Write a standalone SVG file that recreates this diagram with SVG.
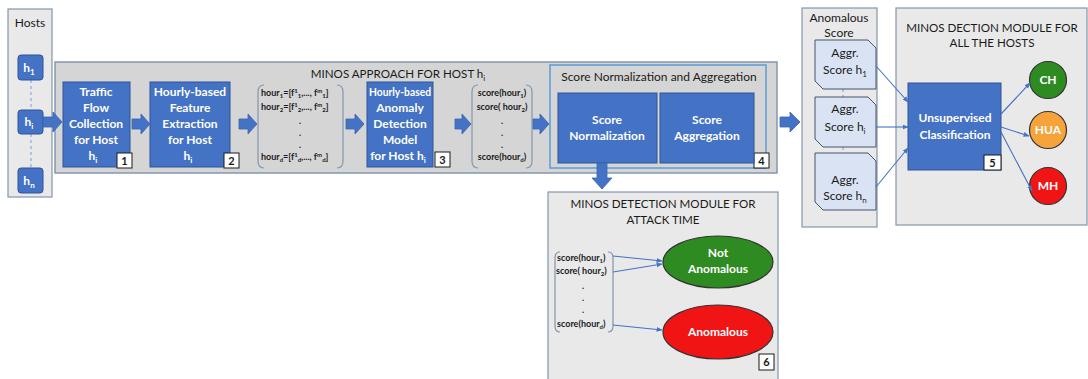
<svg xmlns="http://www.w3.org/2000/svg" width="1088" height="379" viewBox="0 0 1088 379">
  <style>
    text { font-family: Lato, "Open Sans", "Liberation Sans", sans-serif; }
    .panel { fill: #e9e9e9; stroke: #8497b0; stroke-width: 1.2; }
    .approach { fill: #d5d5d5; stroke: #8497b0; stroke-width: 1.5; }
    .inner { fill: #d5d5d5; stroke: #5b9bd5; stroke-width: 1.5; }
    .blue { fill: #4472c4; stroke: #2f5597; stroke-width: 1; }
    .wt { fill: #ffffff; font-weight: 700; font-size: 12px; text-anchor: middle; }
    .bt { fill: #1a1a1a; font-size: 12px; text-anchor: middle; }
    .title { fill: #1a1a1a; font-size: 11.6px; text-anchor: middle; }
    .small { fill: #1a1a1a; font-size: 9px; font-weight: 700; }
    .tag { fill: #ffffff; stroke: #1a1a1a; stroke-width: 1; }
    .tagt { fill: #1a1a1a; font-size: 11px; font-weight: 700; text-anchor: middle; }
    .bracket { fill: none; stroke: #8497b0; stroke-width: 1.2; }
    .aggr { fill: #dae3f3; stroke: #44546a; stroke-width: 1; }
    .dash { stroke: #8ea9db; stroke-width: 1.2; stroke-dasharray: 3 3; fill: none; }
    .block { fill: #4472c4; stroke: #3a64b0; stroke-width: 0.8; }
    .thin { stroke: #4472c4; stroke-width: 1.1; fill: none; marker-end: url(#tip); }
    .ball { stroke: #333333; stroke-width: 1.2; }
  </style>
  <defs>
    <marker id="tip" viewBox="0 0 10 10" refX="9" refY="5" markerWidth="6" markerHeight="6" orient="auto" markerUnits="userSpaceOnUse">
      <path d="M0,1 L10,5 L0,9 Z" fill="#4472c4"/>
    </marker>
  </defs>

  <!-- Hosts column -->
  <g id="hosts">
    <rect class="panel" x="8" y="9" width="44" height="188"/>
    <text class="bt" x="30" y="27" font-size="11">Hosts</text>
    <line class="dash" x1="31" y1="80" x2="31" y2="110"/>
    <line class="dash" x1="31" y1="134" x2="31" y2="168"/>
  </g>
  <g id="host-h1">
    <rect class="blue" x="18" y="55" width="25" height="25" rx="3"/>
    <text class="wt" x="29" y="72">h<tspan font-size="8" dy="3">1</tspan></text>
  </g>
  <g id="host-hi">
    <rect class="blue" x="18" y="110" width="25" height="24" rx="3"/>
    <text class="wt" x="29" y="126">h<tspan font-size="8" dy="3">i</tspan></text>
  </g>
  <g id="host-hn">
    <rect class="blue" x="18" y="168" width="25" height="25" rx="3"/>
    <text class="wt" x="29" y="185">h<tspan font-size="8" dy="3">n</tspan></text>
  </g>

  <!-- Per-host pipeline -->
  <g id="approach">
    <rect class="approach" x="55" y="62" width="722" height="111"/>
    <text class="title" x="398" y="78">MINOS APPROACH FOR HOST h<tspan font-size="8" dy="3">i</tspan></text>
  </g>
  <g id="traffic-collection">
    <rect class="blue" x="63" y="82" width="67" height="85"/>
    <text class="wt" x="96" y="96">Traffic</text>
    <text class="wt" x="96" y="112">Flow</text>
    <text class="wt" x="96" y="128">Collection</text>
    <text class="wt" x="96" y="144">for Host</text>
    <text class="wt" x="93" y="160">h<tspan font-size="8" dy="3">i</tspan></text>
    <rect class="tag" x="117" y="153" width="15" height="15"/>
    <text class="tagt" x="124.5" y="165">1</text>
  </g>
  <g id="feature-extraction">
    <rect class="blue" x="150" y="82" width="80" height="85"/>
    <text class="wt" x="190" y="96">Hourly-based</text>
    <text class="wt" x="190" y="112">Feature</text>
    <text class="wt" x="190" y="128">Extraction</text>
    <text class="wt" x="190" y="144">for Host</text>
    <text class="wt" x="188" y="160">h<tspan font-size="8" dy="3">i</tspan></text>
    <rect class="tag" x="224" y="153" width="15" height="15"/>
    <text class="tagt" x="231.5" y="165">2</text>
  </g>
  <g id="hour-features">
    <path class="bracket" d="M264,85 Q258,85 258,92 V161 Q258,168 264,168"/>
    <path class="bracket" d="M337,85 Q343,85 343,92 V161 Q343,168 337,168"/>
    <text class="small" x="261" y="96">hour<tspan font-size="6" dy="2">1</tspan><tspan dy="-2">=[f</tspan><tspan font-size="6" dy="-3">1</tspan><tspan font-size="6" dy="5">1</tspan><tspan dy="-2">,..., f</tspan><tspan font-size="6" dy="-3">m</tspan><tspan font-size="6" dy="5">1</tspan><tspan dy="-2">]</tspan></text>
    <text class="small" x="261" y="110">hour<tspan font-size="6" dy="2">2</tspan><tspan dy="-2">=[f</tspan><tspan font-size="6" dy="-3">1</tspan><tspan font-size="6" dy="5">2</tspan><tspan dy="-2">,..., f</tspan><tspan font-size="6" dy="-3">m</tspan><tspan font-size="6" dy="5">2</tspan><tspan dy="-2">]</tspan></text>
    <text class="small" x="300" y="124" text-anchor="middle">.</text>
    <text class="small" x="300" y="136" text-anchor="middle">.</text>
    <text class="small" x="300" y="148" text-anchor="middle">.</text>
    <text class="small" x="261" y="160">hour<tspan font-size="6" dy="2">d</tspan><tspan dy="-2">=[f</tspan><tspan font-size="6" dy="-3">1</tspan><tspan font-size="6" dy="5">d</tspan><tspan dy="-2">,..., f</tspan><tspan font-size="6" dy="-3">m</tspan><tspan font-size="6" dy="5">d</tspan><tspan dy="-2">]</tspan></text>
  </g>
  <g id="anomaly-model">
    <rect class="blue" x="367" y="82" width="66" height="85"/>
    <text class="wt" x="400" y="96" textLength="62" lengthAdjust="spacingAndGlyphs">Hourly-based</text>
    <text class="wt" x="400" y="112">Anomaly</text>
    <text class="wt" x="400" y="128">Detection</text>
    <text class="wt" x="400" y="144">Model</text>
    <text class="wt" x="398" y="160">for Host  h<tspan font-size="8" dy="3">i</tspan></text>
    <rect class="tag" x="435" y="152" width="15" height="15"/>
    <text class="tagt" x="442.5" y="164">3</text>
  </g>
  <g id="hour-scores">
    <path class="bracket" d="M478,85 Q472,85 472,92 V161 Q472,168 478,168"/>
    <path class="bracket" d="M526,85 Q532,85 532,92 V161 Q532,168 526,168"/>
    <text class="small" x="502" y="96" text-anchor="middle">score(hour<tspan font-size="6" dy="2">1</tspan><tspan dy="-2">)</tspan></text>
    <text class="small" x="502" y="110" text-anchor="middle">score( hour<tspan font-size="6" dy="2">2</tspan><tspan dy="-2">)</tspan></text>
    <text class="small" x="502" y="124" text-anchor="middle">.</text>
    <text class="small" x="502" y="136" text-anchor="middle">.</text>
    <text class="small" x="502" y="148" text-anchor="middle">.</text>
    <text class="small" x="502" y="160" text-anchor="middle">score(hour<tspan font-size="6" dy="2">d</tspan><tspan dy="-2">)</tspan></text>
  </g>
  <g id="score-stage">
    <rect class="inner" x="550" y="65" width="216" height="103"/>
    <text class="bt" x="659" y="81" font-size="13">Score Normalization and Aggregation</text>
    <rect class="tag" x="754" y="153" width="15" height="15"/>
    <text class="tagt" x="761.5" y="165">4</text>
  </g>
  <g id="score-normalization">
    <rect class="blue" x="558" y="93" width="99" height="70"/>
    <text class="wt" x="607" y="124">Score</text>
    <text class="wt" x="607" y="140">Normalization</text>
  </g>
  <g id="score-aggregation">
    <rect class="blue" x="660" y="93" width="94" height="70"/>
    <text class="wt" x="707" y="124">Score</text>
    <text class="wt" x="707" y="140">Aggregation</text>
  </g>

  <!-- Attack-time detection -->
  <g id="attack-time-module">
    <rect class="panel" x="548" y="192" width="230" height="192"/>
    <text class="title" x="663" y="208">MINOS DETECTION MODULE FOR</text>
    <text class="title" x="663" y="224">ATTACK TIME</text>
    <path class="bracket" d="M560,252 Q555,252 555,258 V326 Q555,332 560,332"/>
    <path class="bracket" d="M608,252 Q613,252 613,258 V326 Q613,332 608,332"/>
    <text class="small" x="557" y="261">score(hour<tspan font-size="6" dy="2">1</tspan><tspan dy="-2">)</tspan></text>
    <text class="small" x="556" y="274">score( hour<tspan font-size="6" dy="2">2</tspan><tspan dy="-2">)</tspan></text>
    <text class="small" x="583" y="289" text-anchor="middle">.</text>
    <text class="small" x="583" y="301" text-anchor="middle">.</text>
    <text class="small" x="583" y="313" text-anchor="middle">.</text>
    <text class="small" x="557" y="327">score(hour<tspan font-size="6" dy="2">d</tspan><tspan dy="-2">)</tspan></text>
    <rect class="tag" x="759" y="354" width="15" height="16"/>
    <text class="tagt" x="766.5" y="366">6</text>
  </g>
  <g id="not-anomalous">
    <ellipse class="ball" cx="718" cy="262" rx="55" ry="26" fill="#2e8b22"/>
    <text class="wt" x="718" y="257">Not</text>
    <text class="wt" x="718" y="273">Anomalous</text>
  </g>
  <g id="anomalous">
    <ellipse class="ball" cx="718" cy="332" rx="55" ry="27" fill="#f01414"/>
    <text class="wt" x="718" y="336">Anomalous</text>
  </g>

  <!-- Aggregated scores of all hosts -->
  <g id="anomalous-score">
    <rect class="panel" x="802" y="8" width="75" height="219"/>
    <text class="bt" x="839" y="22" font-size="11">Anomalous</text>
    <text class="bt" x="839" y="37" font-size="11">Score</text>
    <line class="dash" x1="843" y1="89" x2="843" y2="97"/>
    <line class="dash" x1="843" y1="147" x2="843" y2="153"/>
  </g>
  <g id="aggr-h1">
    <path class="aggr" d="M815,40 H868 L876,48 V89 H823 L815,81 Z"/>
    <text class="bt" x="845" y="57" font-size="11">Aggr.</text>
    <text class="bt" x="845" y="74" font-size="11">Score h<tspan font-size="8" dy="3">1</tspan></text>
  </g>
  <g id="aggr-hi">
    <path class="aggr" d="M815,97 H868 L876,105 V147 H823 L815,139 Z"/>
    <text class="bt" x="845" y="113" font-size="11">Aggr.</text>
    <text class="bt" x="845" y="131" font-size="11">Score h<tspan font-size="8" dy="3">i</tspan></text>
  </g>
  <g id="aggr-hn">
    <path class="aggr" d="M815,153 H868 L876,161 V210 H823 L815,202 Z"/>
    <text class="bt" x="845" y="184" font-size="11">Aggr.</text>
    <text class="bt" x="845" y="200" font-size="11">Score h<tspan font-size="8" dy="3">n</tspan></text>
  </g>

  <!-- Host classification -->
  <g id="all-hosts-module">
    <rect class="panel" x="896" y="8" width="191" height="217"/>
    <text class="title" x="992" y="32">MINOS DECTION MODULE FOR</text>
    <text class="title" x="992" y="47">ALL THE HOSTS</text>
  </g>
  <g id="unsupervised">
    <rect class="blue" x="908" y="83" width="93" height="87"/>
    <text class="wt" x="955" y="122">Unsupervised</text>
    <text class="wt" x="955" y="139">Classification</text>
    <rect class="tag" x="984" y="155" width="17" height="15"/>
    <text class="tagt" x="992.5" y="167">5</text>
  </g>
  <g id="class-ch">
    <circle class="ball" cx="1048" cy="80" r="18.5" fill="#2e8b22"/>
    <text class="wt" x="1048" y="84" font-size="11">CH</text>
  </g>
  <g id="class-hua">
    <circle class="ball" cx="1048" cy="130" r="18.5" fill="#f5a33a"/>
    <text class="wt" x="1048" y="134" font-size="11">HUA</text>
  </g>
  <g id="class-mh">
    <circle class="ball" cx="1048" cy="186" r="18.5" fill="#f01414"/>
    <text class="wt" x="1048" y="190" font-size="11">MH</text>
  </g>

  <!-- Connectors -->
  <g id="connectors">
    <path class="block" d="M43,117 H53 V112 L62,122 L53,132 V127 H43 Z"/>
    <path class="block" d="M132,119 H141 V114 L150,124 L141,134 V129 H132 Z"/>
    <path class="block" d="M239,119 H248 V114 L257,124 L248,134 V129 H239 Z"/>
    <path class="block" d="M346,119 H355 V114 L364,124 L355,134 V129 H346 Z"/>
    <path class="block" d="M455,119 H462 V114 L471,124 L462,134 V129 H455 Z"/>
    <path class="block" d="M533,119 H540 V114 L549,124 L540,134 V129 H533 Z"/>
    <path class="block" d="M780,117 H790 V112 L800,122 L790,132 V127 H780 Z"/>
    <path class="block" d="M597,163 V178 H592 L602,189 L612,178 H607 V163 Z"/>
    <line class="thin" x1="613" y1="256" x2="662" y2="261"/>
    <line class="thin" x1="613" y1="272" x2="662" y2="264"/>
    <line class="thin" x1="613" y1="325" x2="662" y2="330"/>
    <line class="thin" x1="876" y1="66" x2="908" y2="102"/>
    <line class="thin" x1="876" y1="127" x2="908" y2="127"/>
    <line class="thin" x1="876" y1="187" x2="908" y2="148"/>
    <line class="thin" x1="1001" y1="114" x2="1030" y2="83"/>
    <line class="thin" x1="1001" y1="127" x2="1029" y2="136"/>
    <line class="thin" x1="1001" y1="132" x2="1032" y2="191"/>
  </g>
</svg>
